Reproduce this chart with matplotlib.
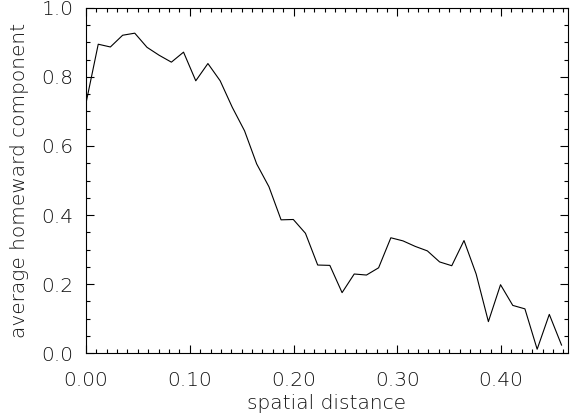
import matplotlib
matplotlib.use('Agg')
import matplotlib.pyplot as plt
from matplotlib.ticker import MultipleLocator, FormatStrFormatter

# bin centres (spatial distance) and the mean homeward component in each bin
distance = [0.0000, 0.0118, 0.0235, 0.0353, 0.0470, 0.0588, 0.0705, 0.0823,
            0.0940, 0.1058, 0.1175, 0.1293, 0.1410, 0.1528, 0.1645, 0.1763,
            0.1880, 0.1998, 0.2115, 0.2233, 0.2350, 0.2468, 0.2585, 0.2703,
            0.2820, 0.2938, 0.3055, 0.3173, 0.3290, 0.3408, 0.3525, 0.3643,
            0.3760, 0.3878, 0.3995, 0.4113, 0.4230, 0.4348, 0.4465, 0.4583]
homeward = [0.724, 0.895, 0.887, 0.921, 0.927, 0.886, 0.863, 0.843,
            0.872, 0.789, 0.839, 0.789, 0.712, 0.644, 0.548, 0.482,
            0.386, 0.387, 0.347, 0.255, 0.254, 0.175, 0.229, 0.226,
            0.247, 0.334, 0.325, 0.309, 0.296, 0.264, 0.253, 0.326,
            0.229, 0.091, 0.198, 0.138, 0.128, 0.011, 0.112, 0.023]

plt.rcParams['font.family'] = ['DejaVu Sans']

fig = plt.figure(figsize=(5.71, 4.16), dpi=100)
ax = fig.add_axes([0.1506, 0.1514, 0.8441, 0.8294])

ax.plot(distance, homeward, color='black', linewidth=0.8)

ax.set_xlim(0, 0.4645)
ax.set_ylim(0, 1.0)

ax.xaxis.set_major_locator(MultipleLocator(0.1))
ax.xaxis.set_minor_locator(MultipleLocator(0.01))
ax.yaxis.set_major_locator(MultipleLocator(0.2))
ax.yaxis.set_minor_locator(MultipleLocator(0.05))
ax.xaxis.set_major_formatter(FormatStrFormatter('%.2f'))
ax.yaxis.set_major_formatter(FormatStrFormatter('%.1f'))

ax.tick_params(which='both', direction='in', top=True, right=True,
               labelsize=14.5, width=0.8, colors='black')
ax.tick_params(axis='x', which='both', pad=13)
ax.tick_params(axis='y', which='both', pad=9)
ax.tick_params(which='major', length=6)
ax.tick_params(which='minor', length=3)
for lbl in ax.get_xticklabels() + ax.get_yticklabels():
    lbl.set_fontweight('light')
    lbl.set_color('#111111')

for s in ax.spines.values():
    s.set_linewidth(0.8)

ax.set_xlabel('spatial distance', fontsize=14.5, color='#111111',
              fontweight='light', labelpad=3)
ax.set_ylabel('average homeward component', fontsize=14.5, color='#111111',
              fontweight='light', labelpad=9)

plt.savefig('out.png', dpi=100)
